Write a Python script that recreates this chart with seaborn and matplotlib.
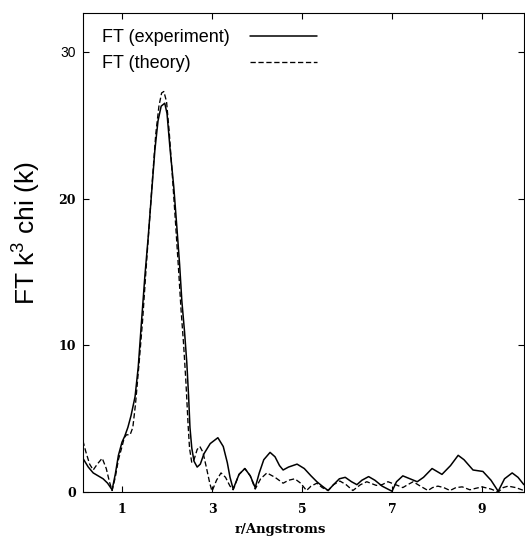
import numpy as np
import pandas as pd
import matplotlib
matplotlib.use("Agg")
import matplotlib.pyplot as plt
import seaborn as sns
from matplotlib.legend_handler import HandlerLine2D

# ---------------- data ----------------
r_exp = [0.13, 0.25, 0.36, 0.47, 0.58, 0.68, 0.78, 0.85, 0.92, 1.00, 1.06, 1.13,
         1.20, 1.29, 1.36, 1.44, 1.51, 1.58, 1.66, 1.73, 1.80, 1.87, 1.95, 2.00,
         2.07, 2.15, 2.22, 2.28, 2.33, 2.39, 2.44, 2.48, 2.51, 2.55, 2.60, 2.67,
         2.74, 2.82, 2.96, 3.13, 3.25, 3.34, 3.40, 3.47, 3.60, 3.73, 3.85, 3.96,
         4.05, 4.15, 4.29, 4.40, 4.50, 4.58, 4.70, 4.89, 5.05, 5.20, 5.33, 5.45,
         5.58, 5.70, 5.83, 5.96, 6.10, 6.22, 6.33, 6.48, 6.62, 6.78, 7.00, 7.10,
         7.24, 7.40, 7.56, 7.70, 7.89, 8.00, 8.11, 8.30, 8.47, 8.60, 8.80, 9.02,
         9.20, 9.36, 9.50, 9.67, 9.80, 9.93]
ft_exp = [2.3, 1.7, 1.3, 1.1, 0.9, 0.6, 0.15, 1.2, 2.5, 3.4, 3.8, 4.4,
          5.2, 6.5, 8.5, 11.9, 14.8, 17.3, 20.5, 23.3, 25.3, 26.3, 26.5, 25.8,
          23.3, 20.8, 18.0, 15.5, 13.0, 10.9, 8.8, 6.5, 4.4, 3.0, 2.1, 1.7,
          1.9, 2.6, 3.3, 3.7, 3.1, 2.0, 1.0, 0.2, 1.2, 1.6, 1.1, 0.3,
          1.3, 2.2, 2.7, 2.4, 1.8, 1.5, 1.7, 1.9, 1.6, 1.1, 0.7, 0.4,
          0.1, 0.5, 0.9, 1.0, 0.7, 0.5, 0.8, 1.05, 0.8, 0.4, 0.05, 0.7,
          1.1, 0.9, 0.7, 1.0, 1.6, 1.4, 1.2, 1.8, 2.5, 2.2, 1.5, 1.4,
          0.8, 0.05, 0.9, 1.3, 1.0, 0.5]

r_th = [0.13, 0.20, 0.28, 0.36, 0.45, 0.56, 0.65, 0.72, 0.78, 0.85, 0.92, 1.00,
        1.05, 1.10, 1.18, 1.24, 1.30, 1.38, 1.46, 1.53, 1.60, 1.68, 1.75, 1.82,
        1.88, 1.93, 1.99, 2.05, 2.12, 2.19, 2.26, 2.31, 2.37, 2.42, 2.47, 2.50,
        2.55, 2.60, 2.67, 2.73, 2.80, 2.88, 2.95, 3.00, 3.10, 3.20, 3.30, 3.40,
        3.47, 3.60, 3.73, 3.85, 3.96, 4.08, 4.22, 4.40, 4.58, 4.70, 4.84, 4.97,
        5.10, 5.20, 5.33, 5.45, 5.58, 5.70, 5.84, 5.98, 6.13, 6.30, 6.44, 6.65,
        6.78, 6.91, 7.08, 7.24, 7.35, 7.47, 7.63, 7.80, 7.90, 8.02, 8.15, 8.29,
        8.42, 8.56, 8.73, 8.86, 9.00, 9.20, 9.36, 9.47, 9.58, 9.75, 9.93]
ft_th = [3.5, 2.7, 1.9, 1.5, 1.9, 2.3, 1.6, 0.7, 0.1, 1.0, 2.2, 3.1,
         3.7, 3.9, 3.9, 4.4, 6.0, 8.8, 11.8, 15.0, 18.0, 21.5, 24.4, 26.3,
         27.2, 27.3, 26.6, 24.5, 21.5, 18.3, 15.0, 12.5, 10.0, 7.5, 4.5, 3.0,
         2.0, 2.2, 2.9, 3.1, 2.7, 1.6, 0.6, 0.05, 0.8, 1.3, 1.0, 0.4,
         0.15, 1.2, 1.6, 1.1, 0.2, 0.9, 1.3, 1.0, 0.6, 0.8, 0.9, 0.6,
         0.1, 0.4, 0.6, 0.3, 0.1, 0.5, 0.75, 0.5, 0.1, 0.5, 0.7, 0.45,
         0.5, 0.7, 0.5, 0.3, 0.5, 0.7, 0.4, 0.1, 0.3, 0.4, 0.3, 0.1,
         0.3, 0.35, 0.15, 0.25, 0.35, 0.2, 0.0, 0.3, 0.4, 0.3, 0.1]

series_labels = ["FT (experiment)", "FT (theory)"]
x_ticks = [1, 3, 5, 7, 9]
y_ticks = [0, 10, 20, 30]
x_label = "r/Angstroms"
y_label = "FT k$^{3}$ chi (k)"

# ---------------- style ----------------
sns.set_style("ticks")
plt.rcParams.update({
    "font.family": ["DejaVu Serif"],
    "text.color": "black",
    "axes.labelcolor": "black",
    "mathtext.fontset": "custom",
    "mathtext.rm": "Liberation Sans",
    "mathtext.default": "rm",
    "axes.edgecolor": "black",
    "axes.linewidth": 0.8,
    "xtick.direction": "in",
    "ytick.direction": "in",
    "xtick.top": True,
    "ytick.right": True,
    "xtick.major.size": 4,
    "ytick.major.size": 4,
    "xtick.major.width": 0.8,
    "ytick.major.width": 0.8,
    "xtick.color": "black",
    "ytick.color": "black",
    "xtick.labelcolor": "black",
    "ytick.labelcolor": "black",
})

fig = plt.figure(figsize=(5.25, 5.44), dpi=100)
ax = fig.add_axes([83 / 525, 52 / 544, 441 / 525, 479 / 544])

df_exp = pd.DataFrame({"r": r_exp, "ft": ft_exp})
df_th = pd.DataFrame({"r": r_th, "ft": ft_th})

sns.lineplot(data=df_exp, x="r", y="ft", ax=ax, color="black", linewidth=1.1,
             label=series_labels[0], legend=False)
sns.lineplot(data=df_th, x="r", y="ft", ax=ax, color="black", linewidth=0.95,
             linestyle=(0, (4.0, 2.0)), label=series_labels[1], legend=False)

ax.set_xlim(0.133, 9.933)
ax.set_ylim(0, 32.65)
ax.set_xticks(x_ticks)
ax.set_yticks(y_ticks)
ax.set_xticklabels([str(t) for t in x_ticks], fontsize=9, fontweight="bold",
                   family="DejaVu Serif")
ax.set_yticklabels([str(t) for t in y_ticks], fontsize=9, fontweight="bold",
                   family="DejaVu Serif")
ax.tick_params(axis="x", pad=8)
ax.tick_params(axis="y", pad=5)
ax.set_xlabel("")
ax.set_ylabel("")

fig.text(280 / 525, 1 - 529 / 544, x_label, ha="center", va="center",
         fontsize=9.5, fontweight="bold", family="DejaVu Serif", color="black")
fig.text(27 / 525, 1 - 233 / 544, y_label, ha="center", va="center",
         rotation=90, fontsize=19, family="Liberation Sans", color="black")


class OffsetLineHandler(HandlerLine2D):
    """Draws the legend sample to the right of the label (gnuplot style)."""
    def __init__(self, x0, x1, **kw):
        super().__init__(**kw)
        self.x0, self.x1 = x0, x1

    def get_xdata(self, legend, xdescent, ydescent, width, height, fontsize):
        xdata = np.array([self.x0, self.x1]) - xdescent
        return xdata, xdata


h_exp, h_th = ax.lines[0], ax.lines[1]
x0_pt, x1_pt = 148 * 0.72, 215 * 0.72
leg = ax.legend([h_exp, h_th], series_labels,
                handler_map={h_exp: OffsetLineHandler(x0_pt, x1_pt),
                             h_th: OffsetLineHandler(x0_pt, x1_pt)},
                loc="upper left", bbox_to_anchor=(19 / 441, 1 - 16 / 479),
                frameon=False, borderpad=0, borderaxespad=0,
                handlelength=0, handletextpad=0, labelspacing=0.5,
                labelcolor="black",
                prop={"family": "Liberation Sans", "size": 13})

for lab in ax.get_yticklabels():
    if lab.get_text() == "30":
        lab.set_fontfamily("Liberation Sans")
        lab.set_fontweight("normal")
        lab.set_fontsize(10)

fig.savefig("out.png", dpi=100)
